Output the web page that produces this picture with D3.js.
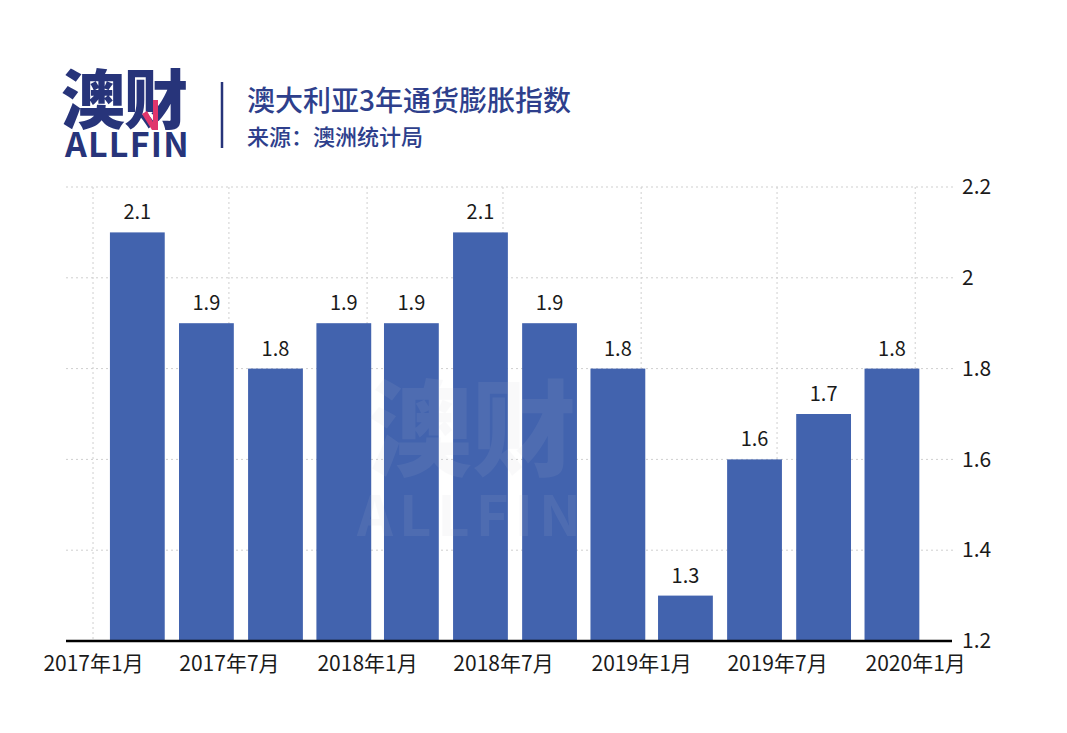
<!DOCTYPE html>
<html><head><meta charset="utf-8">
<script src="https://cdn.jsdelivr.net/npm/d3@7/dist/d3.min.js"></script>
<style>
html,body{margin:0;padding:0;background:#fff;}
svg{display:block;}
text{font-family:"Noto Sans CJK SC","Noto Sans",sans-serif;}
</style></head>
<body>
<script>
const dates = ["2017-03-01","2017-06-01","2017-09-01","2017-12-01","2018-03-01","2018-06-01","2018-09-01","2018-12-01","2019-03-01","2019-06-01","2019-09-01","2019-12-01"];
const values = [2.1,1.9,1.8,1.9,1.9,2.1,1.9,1.8,1.3,1.6,1.7,1.8];
const xTickDates = ["2017-01-01","2017-07-01","2018-01-01","2018-07-01","2019-01-01","2019-07-01","2020-01-01"];
const xTickLabels = ["2017年1月","2017年7月","2018年1月","2018年7月","2019年1月","2019年7月","2020年1月"];
const yTicks = [1.2,1.4,1.6,1.8,2,2.2];
const title = "澳大利亚3年通货膨胀指数";
const subtitle = "来源：澳洲统计局";

const W = 1067, H = 733;
const parse = d3.utcParse("%Y-%m-%d");
const svg = d3.select("body").append("svg").attr("width", W).attr("height", H);

const x = d3.scaleUtc().domain([parse("2016-11-26"), parse("2020-02-23")]).range([66, 955]);
const y = d3.scaleLinear().domain([1.2, 2.2]).range([641, 187]);

const grid = svg.append("g");
grid.selectAll("line.h").data(yTicks.slice(1)).join("line")
  .attr("x1", x.range()[0]).attr("x2", x.range()[1])
  .attr("y1", d => y(d)).attr("y2", d => y(d))
  .attr("stroke", "#cfcfcf").attr("stroke-width", 1).attr("stroke-dasharray", "2,3");
grid.selectAll("line.v").data(xTickDates).join("line")
  .attr("x1", d => x(parse(d))).attr("x2", d => x(parse(d)))
  .attr("y1", y(2.2)).attr("y2", y(1.2))
  .attr("stroke", "#cfcfcf").attr("stroke-width", 1).attr("stroke-dasharray", "2,3");

// bars
const day = 86400000;
const x0 = i => x(new Date(parse(dates[i]).getTime() - 36.5 * day));
const x1 = i => x(new Date(parse(dates[i]).getTime() + 36.5 * day));
svg.append("g").selectAll("rect").data(values).join("rect")
  .attr("x", (d, i) => x0(i))
  .attr("width", (d, i) => x1(i) - x0(i))
  .attr("y", d => y(d))
  .attr("height", d => y(1.2) - y(d))
  .attr("fill", "#4263ae");

// value labels
svg.append("g").selectAll("text").data(values).join("text")
  .attr("x", (d, i) => x(parse(dates[i])))
  .attr("y", d => y(d) - 13)
  .attr("text-anchor", "middle")
  .attr("font-size", 20).attr("fill", "#1a1a1a")
  .text(d => d);

// x axis
const xAxis = d3.axisBottom(x)
  .tickValues(xTickDates.map(parse))
  .tickFormat((d, i) => xTickLabels[i])
  .tickSize(0).tickPadding(15);
const gx = svg.append("g").attr("transform", `translate(0,${y(1.2)})`).call(xAxis);
gx.select(".domain").attr("stroke", "#000").attr("stroke-width", 2.5).attr("d", `M66,0H952`);
gx.selectAll("text").attr("font-size", 21).attr("fill", "#1a1a1a")
  .attr("font-family", '"Noto Sans CJK SC",sans-serif');

// y axis (right)
const yAxis = d3.axisRight(y).tickValues(yTicks).tickFormat(d3.format("~g")).tickSize(0).tickPadding(0);
const gy = svg.append("g").attr("transform", `translate(962,0)`).call(yAxis);
gy.select(".domain").remove();
gy.selectAll("text").attr("font-size", 21).attr("fill", "#1a1a1a")
  .attr("font-family", '"Noto Sans CJK SC",sans-serif');

// watermark
const wm = svg.append("g").attr("opacity", 0.09).attr("fill", "#c4c8d4");
wm.append("text").attr("x", 472).attr("y", 468).attr("text-anchor", "middle")
  .attr("font-size", 104).attr("font-weight", 900).text("澳财");
wm.append("text").attr("x", 472).attr("y", 536).attr("text-anchor", "middle")
  .attr("font-size", 56).attr("font-weight", 700).attr("letter-spacing", 6)
  .attr("font-family", '"Liberation Sans",sans-serif').text("ALLFIN");

// header / logo
const navy = "#27347a";
svg.append("text").attr("x", 61).attr("y", 123).attr("font-size", 64).attr("font-weight", 900)
  .attr("fill", navy).attr("letter-spacing", -1).text("澳财");
svg.append("path").attr("d", "M142,114 L147,111 L153,122 L153,100 L158,100 L158,130 L152,130 Z")
  .attr("fill", "#e0356c");
svg.append("text").attr("x", 65).attr("y", 157).attr("font-size", 34).attr("font-weight", 700)
  .attr("font-family", '"Liberation Sans","DejaVu Sans",sans-serif').attr("letter-spacing", 1.2)
  .attr("fill", navy).text("ALLFIN");
svg.append("line").attr("x1", 222).attr("x2", 222).attr("y1", 82).attr("y2", 148)
  .attr("stroke", navy).attr("stroke-width", 2.5);
svg.append("text").attr("x", 247).attr("y", 111).attr("font-size", 28).attr("font-weight", 500)
  .attr("fill", "#2e3f8c").text(title);
svg.append("text").attr("x", 247).attr("y", 145).attr("font-size", 22).attr("font-weight", 500)
  .attr("fill", "#2e3f8c").text(subtitle);
</script>
</body></html>
